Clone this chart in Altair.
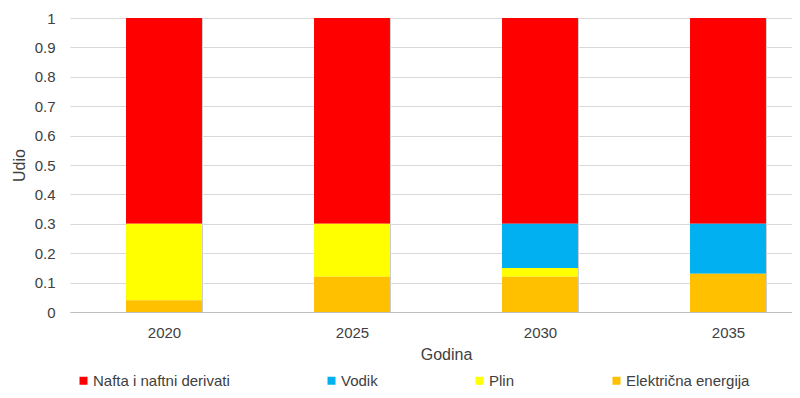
import altair as alt
import pandas as pd

years = ["2020", "2025", "2030", "2035"]
nafta = [0.70, 0.70, 0.70, 0.70]
vodik = [0.00, 0.00, 0.15, 0.17]
plin = [0.26, 0.18, 0.03, 0.00]
elektricna = [0.04, 0.12, 0.12, 0.13]

series_names = ["Nafta i naftni derivati", "Vodik", "Plin", "Električna energija"]
series_colors = ["#FF0000", "#00B0F0", "#FFFF00", "#FFC000"]
stack_rank = {"Električna energija": 0, "Plin": 1, "Vodik": 2, "Nafta i naftni derivati": 3}

rows = []
for name, vals in zip(series_names, [nafta, vodik, plin, elektricna]):
    for y, v in zip(years, vals):
        rows.append({"Godina": y, "Izvor": name, "Udio": v, "rank": stack_rank[name]})
df = pd.DataFrame(rows)

txt = "#404040"
font = "Liberation Sans"

chart = (
    alt.Chart(df)
    .mark_bar()
    .encode(
        x=alt.X(
            "Godina:N",
            title="Godina",
            scale=alt.Scale(range=[0, 752], paddingInner=0.596, paddingOuter=0.298),
            axis=alt.Axis(
                labelAngle=0,
                ticks=False,
                tickBand="extent",
                grid=True,
                gridColor="#CCCCCC",
                domainColor="#BFBFBF",
                labelPadding=13,
                titlePadding=6,
            ),
        ),
        y=alt.Y(
            "Udio:Q",
            title="Udio",
            stack="zero",
            scale=alt.Scale(domain=[0, 1], nice=False),
            axis=alt.Axis(
                values=[0, 0.1, 0.2, 0.3, 0.4, 0.5, 0.6, 0.7, 0.8, 0.9, 1],
                format="~g",
                ticks=False,
                domain=False,
                gridColor="#D9D9D9",
                labelPadding=15,
                titlePadding=7,
            ),
        ),
        color=alt.Color(
            "Izvor:N",
            scale=alt.Scale(domain=series_names, range=series_colors),
            legend=alt.Legend(
                title=None,
                orient="none",
                direction="horizontal",
                legendX=6,
                legendY=355,
                symbolType="square",
                symbolSize=64,
                symbolStrokeWidth=0,
                labelOffset=2,
                columnPadding=94,
                labelFontSize=15,
                labelColor=txt,
                labelFont=font,
                labelLimit=300,
            ),
        ),
        order=alt.Order("rank:Q", sort="ascending"),
    )
    .properties(
        width=722,
        height=294,
        autosize=alt.AutoSizeParams(type="none"),
        padding={"left": 62, "top": 10, "right": 0, "bottom": 78},
    )
    .configure_view(stroke=None)
    .configure_axis(
        labelFont=font,
        titleFont=font,
        labelFontSize=15,
        titleFontSize=16,
        titleFontWeight="normal",
        labelColor=txt,
        titleColor=txt,
    )
)

chart.save("out.html", embed_options={"renderer": "svg", "actions": False})
